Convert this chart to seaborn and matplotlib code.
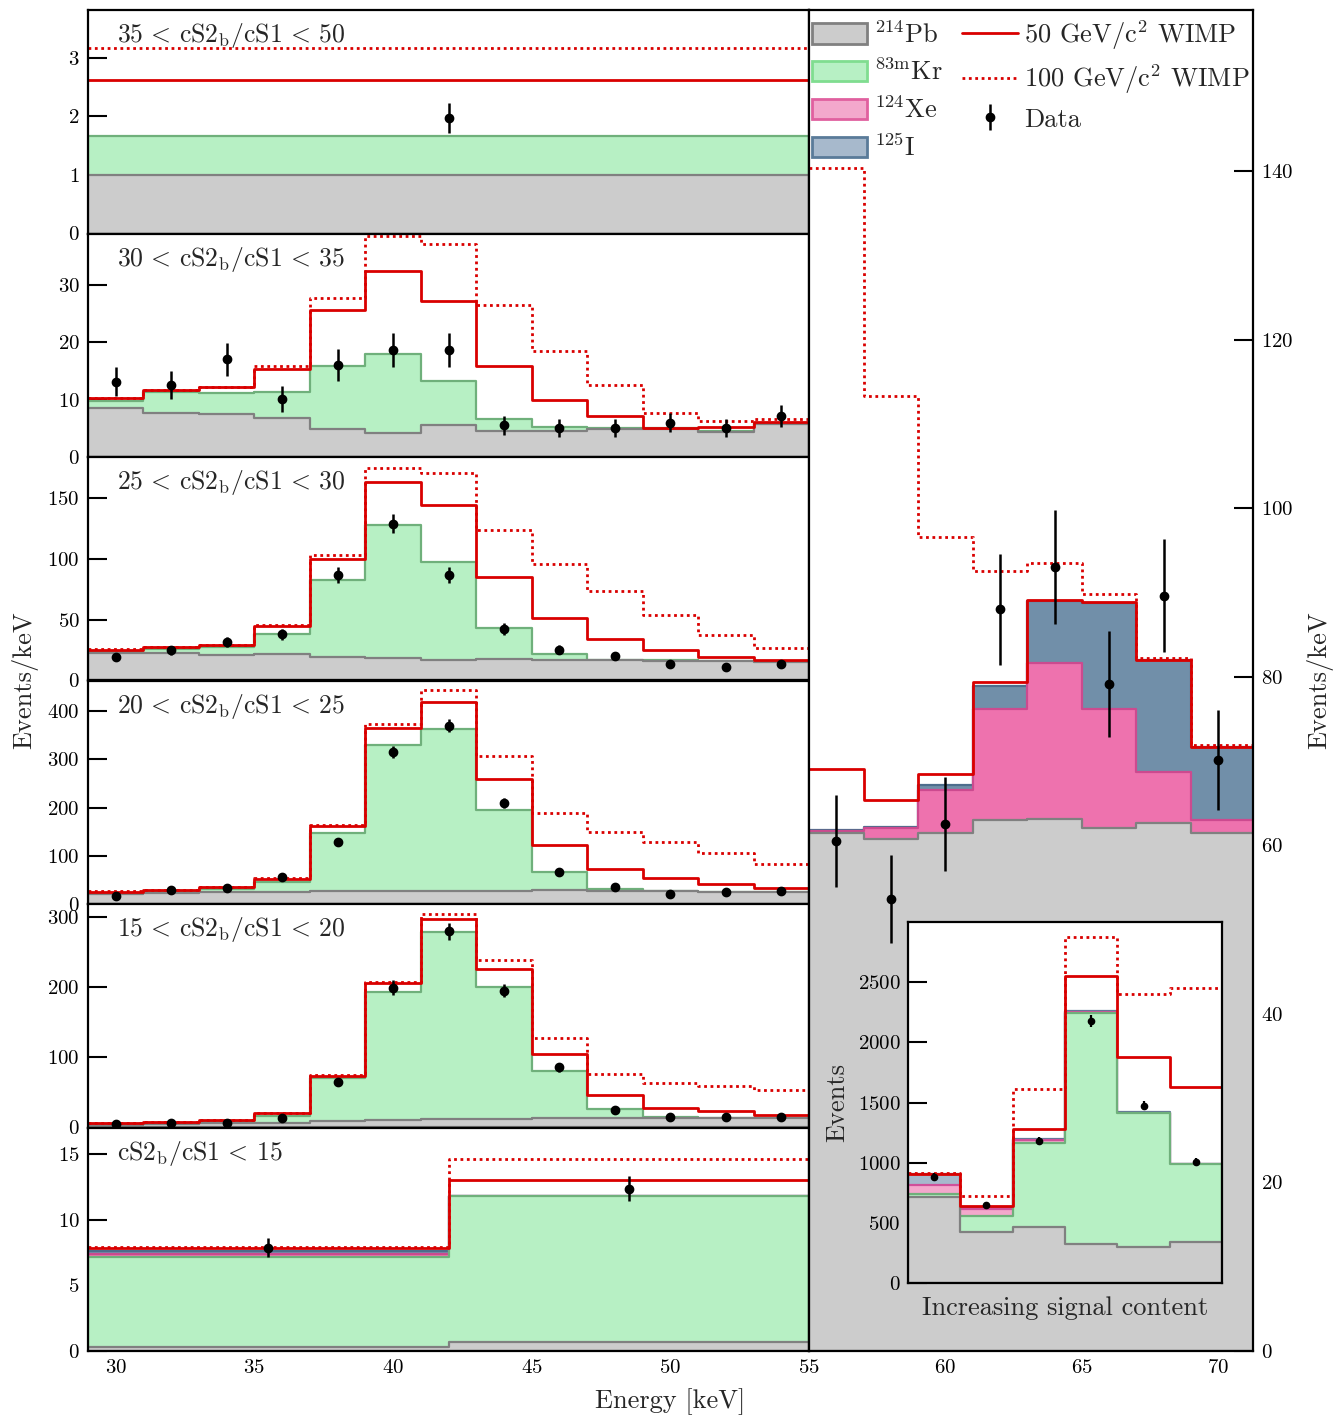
import numpy as np
import matplotlib
matplotlib.use("Agg")
import matplotlib.pyplot as plt
import seaborn as sns
from matplotlib.patches import Patch
from matplotlib.lines import Line2D

sns.set_style("ticks")
plt.rcParams["font.family"] = ["cmr10", "DejaVu Serif"]
plt.rcParams["mathtext.fontset"] = "cm"
plt.rcParams["axes.formatter.use_mathtext"] = True
plt.rcParams["axes.unicode_minus"] = False

# ---------------- data (Events/keV, stack tops) ----------------
energy_centers = [30, 32, 34, 36, 38, 40, 42, 44, 46, 48, 50, 52, 54]
energy_edges = [29, 31, 33, 35, 37, 39, 41, 43, 45, 47, 49, 51, 53, 55]

# 35 < cS2b/cS1 < 50 (one wide bin)
r35_centers = [42]
r35_edges = [29, 55]
r35_pb = [1.0]
r35_kr = [1.67]
r35_w50 = [2.61]
r35_w100 = [3.17]
r35_data = [1.97]
r35_err = [0.26]

# 30 < cS2b/cS1 < 35
r30_pb = [8.5, 7.7, 7.4, 6.8, 4.8, 4.2, 5.5, 4.6, 4.6, 4.9, 4.9, 4.4, 5.8]
r30_kr = [9.8, 11.3, 11.2, 11.4, 15.8, 17.9, 13.2, 6.6, 5.2, 5.0, 5.0, 4.6, 5.9]
r30_w50 = [10.2, 11.6, 12.1, 15.3, 25.5, 32.4, 27.2, 15.9, 9.9, 7.1, 5.0, 5.2, 6.1]
r30_w100 = [10.3, 11.7, 12.2, 15.8, 27.7, 38.5, 37.1, 26.5, 18.5, 12.5, 7.7, 6.2, 6.7]
r30_data = [13.1, 12.5, 17.0, 10.1, 16.0, 18.6, 18.6, 5.5, 5.0, 5.0, 6.0, 5.0, 7.1]
r30_err = [2.5, 2.4, 2.9, 2.2, 2.8, 3.0, 3.0, 1.6, 1.6, 1.6, 1.7, 1.6, 1.9]

# 25 < cS2b/cS1 < 30
r25_pb = [22.3, 22.9, 20.7, 21.5, 19.6, 18.8, 16.6, 17.4, 16.9, 16.6, 16.3, 16.3, 15.2]
r25_kr = [24.3, 26.2, 27.4, 38.1, 82.9, 127.5, 97.2, 43.1, 21.9, 16.8, 16.5, 16.4, 15.3]
r25_w50 = [24.8, 27.4, 28.8, 44.5, 99.5, 163.3, 144.1, 84.8, 51.2, 33.9, 25.1, 19.3, 16.9]
r25_w100 = [25.6, 27.7, 29.0, 45.7, 103.5, 174.9, 170.2, 123.6, 95.5, 73.2, 53.9, 37.6, 26.6]
r25_data = [19.0, 24.8, 31.9, 38.0, 87.0, 128.9, 87.0, 42.3, 25.4, 20.2, 13.3, 11.4, 13.8]
r25_err = [3.1, 3.5, 4.0, 4.4, 6.6, 8.0, 6.6, 4.6, 3.6, 3.2, 2.6, 2.4, 2.6]

# 20 < cS2b/cS1 < 25
r20_pb = [20, 22, 24, 24, 27, 26, 27, 28, 29, 27, 26, 25, 24]
r20_kr = [22, 27, 31, 46.1, 147.9, 329.2, 363.3, 195.2, 66.7, 32.1, 27, 25.5, 24.5]
r20_w50 = [25.8, 29.3, 34.8, 51.5, 161.9, 365.3, 418.8, 260.4, 122.3, 71.7, 54.2, 41.0, 33.3]
r20_w100 = [26.5, 30, 35.5, 54.2, 164, 373.7, 443.8, 306.3, 188.3, 150, 127.9, 105, 82.7]
r20_data = [16.0, 28.5, 32.7, 56.2, 127.9, 315.4, 370.2, 209.2, 65.4, 34.8, 21.6, 25.8, 27.2]
r20_err = [2.8, 3.8, 4.0, 5.3, 8.0, 12.6, 13.6, 10.2, 5.7, 4.2, 3.3, 3.6, 3.7]

# 15 < cS2b/cS1 < 20
r15_pb = [4, 5, 6, 7, 9, 11, 12, 12, 13, 13, 13, 13, 13]
r15_kr = [5, 6, 8, 16.1, 70, 193.8, 278.5, 200.9, 80.4, 25.7, 14.7, 13.5, 13.5]
r15_w50 = [6.6, 8.0, 10, 20, 73.7, 205.7, 297.6, 226.1, 104.7, 45.7, 27.6, 22.9, 18]
r15_w100 = [7, 8.5, 10.5, 21, 74.7, 208, 304.7, 239, 128, 76.1, 63.8, 59.5, 53.3]
r15_data = [5.7, 6.0, 7.1, 13.8, 65.2, 199.5, 279.5, 195.2, 85.7, 24.7, 15.2, 15.2, 14.8]
r15_err = [1.7, 1.7, 1.9, 2.6, 5.7, 10.0, 11.8, 9.9, 6.5, 3.5, 2.8, 2.8, 2.7]

# cS2b/cS1 < 15 (two wide bins)
r0_centers = [35.5, 48.5]
r0_edges = [29, 42, 55]
r0_pb = [0.33, 0.71]
r0_kr = [7.13, 11.8]
r0_xe = [7.40, 11.8]
r0_i = [7.62, 11.82]
r0_w50 = [7.82, 12.97]
r0_w100 = [7.92, 14.57]
r0_data = [7.87, 12.34]
r0_err = [0.74, 0.95]

# right panel (55-71 keV)
hi_centers = [56, 58, 60, 62, 64, 66, 68, 70]
hi_edges = [55, 57, 59, 61, 63, 65, 67, 69, 71.3]
hi_pb = [61.4, 60.7, 61.4, 63.0, 63.1, 62.0, 62.7, 61.5]
hi_xe = [61.7, 62.0, 66.5, 76.2, 81.6, 76.2, 68.7, 63.0]
hi_i = [61.8, 62.2, 67.2, 78.9, 89.0, 88.8, 82.0, 71.7]
hi_w50 = [69.0, 65.4, 68.5, 79.4, 89.1, 88.9, 82.0, 71.7]
hi_w100 = [140.3, 113.3, 96.6, 92.5, 93.5, 89.8, 82.2, 71.9]
hi_data = [60.5, 53.6, 62.5, 88.0, 93.0, 79.1, 89.6, 70.1]
hi_err = [5.5, 5.2, 5.6, 6.6, 6.8, 6.3, 6.7, 5.9]

# inset (Events, bins of increasing signal content)
in_centers = [0.5, 1.5, 2.5, 3.5, 4.5, 5.5]
in_edges = [0, 1, 2, 3, 4, 5, 6]
in_pb = [718, 423, 464, 326, 298, 340]
in_kr = [738, 561, 1169, 2247, 1418, 992]
in_xe = [815, 613, 1188, 2250, 1418, 992]
in_i = [906, 622, 1195, 2260, 1420, 994]
in_w50 = [910, 641, 1282, 2551, 1877, 1630]
in_w100 = [917, 727, 1617, 2874, 2405, 2451]
in_data = [884, 647, 1180, 2178, 1473, 1006]
in_err = [30, 25, 34, 47, 38, 32]

# ---------------- styles ----------------
RED = "#d90000"
PB = ("#cccccc", "#808080")
KR = ("#b7f0c4", "#6fb07b")
XE = ("#ee72ae", "#cc4a8f")
IO = ("#718fa9", "#4d6d8c")
XE_L = ("#f3a8cc", "#d0509a")
IO_L = ("#a7b9cc", "#5a7b99")
DOT = (0, (1, 1.3))
LAB = 19


def stack(ax, centers, edges, layers, lw=1.6):
    for tops, (fc, ec) in layers:
        sns.histplot(x=centers, weights=tops, bins=edges, element="step",
                     fill=True, facecolor=fc, edgecolor=ec, linewidth=lw, ax=ax)


def wimp(ax, centers, edges, w50, w100, lw=2.0):
    sns.histplot(x=centers, weights=w100, bins=edges, element="step", fill=False,
                 color=RED, linewidth=lw, linestyle=DOT, ax=ax)
    sns.histplot(x=centers, weights=w50, bins=edges, element="step", fill=False,
                 color=RED, linewidth=lw, ax=ax)


def data(ax, x, y, e, ms=6, elw=1.8):
    return ax.errorbar(x, y, yerr=e, fmt="o", color="black", ms=ms,
                       elinewidth=elw, capsize=0, zorder=10, label="Data")


def style(ax, xlim, ylim, yticks, tick_len=14):
    ax.set_xlim(*xlim)
    ax.set_ylim(*ylim)
    ax.set_yticks(yticks)
    ax.set_xlabel("")
    ax.set_ylabel("")
    ax.tick_params(axis="both", direction="in", length=tick_len, width=1.5,
                   labelsize=15, pad=6, colors="black")
    for s in ax.spines.values():
        s.set_visible(True)
        s.set_linewidth(1.6)
        s.set_color("black")


W, H = 1337, 1416
fig = plt.figure(figsize=(W / 100, H / 100), dpi=100)

xL, xM, xR = 88 / W, 809 / W, 1253 / W
top_px, bot_px = 10, 1351
ph = (bot_px - top_px) / 6

panels = [
    (r35_centers, r35_edges, [(r35_kr, KR), (r35_pb, PB)], r35_w50, r35_w100,
     r35_data, r35_err, (0, 3.81), [0, 1, 2, 3], r"$35\,<\,\mathrm{cS2_b/cS1}\,<\,50$"),
    (energy_centers, energy_edges, [(r30_kr, KR), (r30_pb, PB)], r30_w50, r30_w100,
     r30_data, r30_err, (0, 38.9), [0, 10, 20, 30], r"$30\,<\,\mathrm{cS2_b/cS1}\,<\,35$"),
    (energy_centers, energy_edges, [(r25_kr, KR), (r25_pb, PB)], r25_w50, r25_w100,
     r25_data, r25_err, (0, 183.7), [0, 50, 100, 150], r"$25\,<\,\mathrm{cS2_b/cS1}\,<\,30$"),
    (energy_centers, energy_edges, [(r20_kr, KR), (r20_pb, PB)], r20_w50, r20_w100,
     r20_data, r20_err, (0, 464), [0, 100, 200, 300, 400], r"$20\,<\,\mathrm{cS2_b/cS1}\,<\,25$"),
    (energy_centers, energy_edges, [(r15_kr, KR), (r15_pb, PB)], r15_w50, r15_w100,
     r15_data, r15_err, (0, 318.5), [0, 100, 200, 300], r"$15\,<\,\mathrm{cS2_b/cS1}\,<\,20$"),
    (r0_centers, r0_edges, [(r0_i, IO), (r0_xe, XE), (r0_kr, KR), (r0_pb, PB)], r0_w50, r0_w100,
     r0_data, r0_err, (0, 17.0), [0, 5, 10, 15], r"$\mathrm{cS2_b/cS1}\,<\,15$"),
]

for k, (cen, edg, layers, w50, w100, dv, de, ylim, yt, lab) in enumerate(panels):
    t = top_px + k * ph
    ax = fig.add_axes([xL, 1 - (t + ph) / H, xM - xL, ph / H])
    stack(ax, cen, edg, layers)
    wimp(ax, cen, edg, w50, w100)
    data(ax, cen, dv, de)
    style(ax, (29, 55), ylim, yt)
    ax.text(0.040, 0.885, lab, transform=ax.transAxes, fontsize=18.5,
            ha="left", va="center", zorder=20)
    if k < 5:
        ax.tick_params(axis="x", bottom=False, labelbottom=False)
    else:
        ax.set_xticks([30, 35, 40, 45, 50, 55])
        ax.tick_params(axis="x", length=13)

# right panel
axr = fig.add_axes([xM, 1 - bot_px / H, xR - xM, (bot_px - top_px) / H])
stack(axr, hi_centers, hi_edges, [(hi_i, IO), (hi_xe, XE), (hi_pb, PB)])
wimp(axr, hi_centers, hi_edges, hi_w50, hi_w100)
dat = data(axr, hi_centers, hi_data, hi_err)
style(axr, (55, 71.27), (0, 159.1), [0, 20, 40, 60, 80, 100, 120, 140])
axr.set_xticks([60, 65, 70])
axr.yaxis.tick_right()
axr.tick_params(axis="y", left=False, right=True, labelleft=False, labelright=True)
axr.tick_params(axis="x", length=14)

handles = [
    Patch(facecolor="#cccccc", edgecolor="#808080", linewidth=2),
    Patch(facecolor="#b7f0c4", edgecolor="#80dd90", linewidth=2),
    Patch(facecolor=XE_L[0], edgecolor="#e0609f", linewidth=2),
    Patch(facecolor=IO_L[0], edgecolor=IO_L[1], linewidth=2),
    Line2D([], [], color=RED, lw=2),
    Line2D([], [], color=RED, lw=2, linestyle=DOT),
    dat,
]
labels = [r"$^{214}$Pb", r"$^{83\mathrm{m}}$Kr", r"$^{124}$Xe", r"$^{125}$I",
          r"50 GeV/c$^2$ WIMP", r"100 GeV/c$^2$ WIMP", "Data"]
axr.legend(handles, labels, ncol=2, loc="upper left", bbox_to_anchor=(0.0, 0.996),
           frameon=False, fontsize=LAB, handlelength=2.1, handleheight=0.8,
           handletextpad=0.25, columnspacing=0.75, labelspacing=0.42,
           borderaxespad=0.0, borderpad=0.1)

# inset
axi = fig.add_axes([907.7 / W, 1 - 1283.3 / H, 314.6 / W, 361.3 / H], zorder=30)
axi.set_facecolor("white")
stack(axi, in_centers, in_edges, [(in_i, IO_L), (in_xe, XE_L), (in_kr, KR), (in_pb, PB)])
wimp(axi, in_centers, in_edges, in_w50, in_w100)
data(axi, in_centers, in_data, in_err, ms=4.5, elw=1.6)
style(axi, (0, 6), (0, 3000), [0, 500, 1000, 1500, 2000, 2500])
axi.set_xticks([])
axi.tick_params(axis="y", pad=5)
axi.set_ylabel("Events", fontsize=LAB, labelpad=6)
axi.set_xlabel("Increasing signal content", fontsize=LAB, labelpad=9)

fig.text(25 / W, 1 - 680 / H, "Events/keV", rotation=90, ha="center", va="center", fontsize=LAB)
fig.text(1320 / W, 1 - 680 / H, "Events/keV", rotation=90, ha="center", va="center", fontsize=LAB)
fig.text(670 / W, 1 - 1402 / H, "Energy [keV]", ha="center", va="center", fontsize=LAB)

fig.savefig("out.png", dpi=100)
